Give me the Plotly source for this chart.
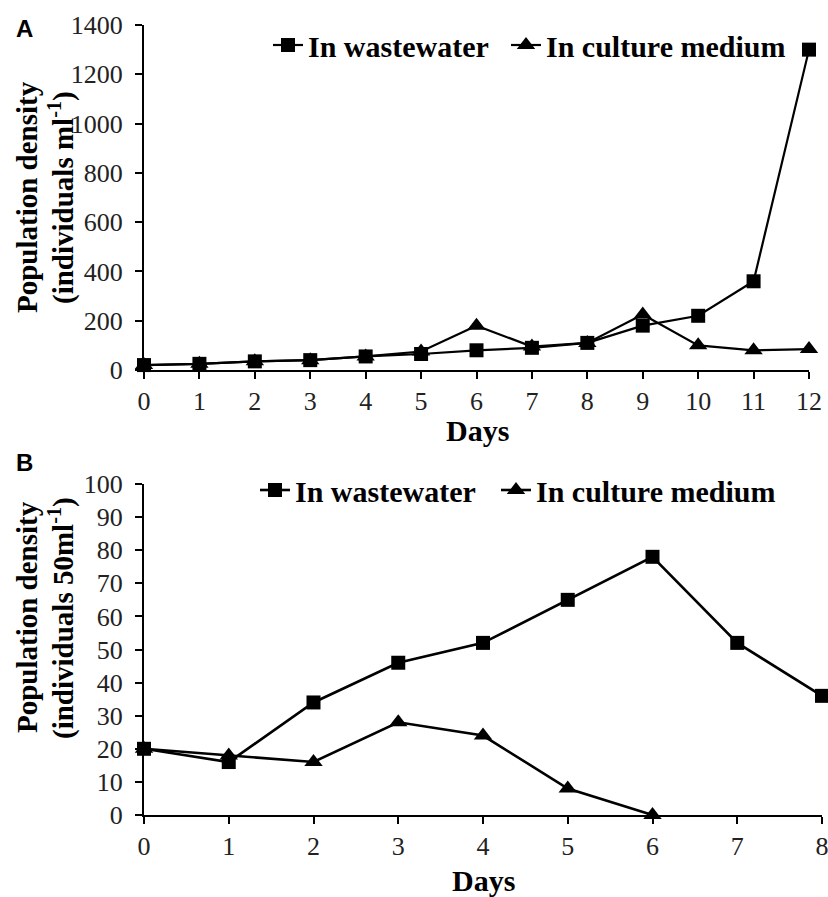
import plotly.graph_objects as go

# Panel A data
days_a = [0, 1, 2, 3, 4, 5, 6, 7, 8, 9, 10, 11, 12]
waste_a = [20, 25, 35, 40, 55, 65, 80, 90, 110, 180, 220, 360, 1300]
culture_a = [20, 25, 35, 40, 55, 75, 180, 95, 110, 225, 100, 80, 85]

# Panel B data
days_b = [0, 1, 2, 3, 4, 5, 6, 7, 8]
waste_b = [20, 16, 34, 46, 52, 65, 78, 52, 36]
days_b_c = [0, 1, 2, 3, 4, 5, 6]
culture_b = [20, 18, 16, 28, 24, 8, 0]

yticks_a = [0, 200, 400, 600, 800, 1000, 1200, 1400]
yticks_b = [0, 10, 20, 30, 40, 50, 60, 70, 80, 90, 100]

W, H = 828, 897
SERIF = "Liberation Serif, Times New Roman, serif"

def fx(px):
    return px / W

def fy(py):
    return 1 - py / H

fig = go.Figure()

fig.add_trace(go.Scatter(x=days_a, y=waste_a, mode="lines+markers", name="In wastewater",
                         line=dict(color="black", width=2.2), marker=dict(symbol="square", size=14, color="black"),
                         xaxis="x", yaxis="y", legend="legend", cliponaxis=False))
fig.add_trace(go.Scatter(x=days_a, y=culture_a, mode="lines+markers", name="In culture medium",
                         line=dict(color="black", width=2.2), marker=dict(symbol="triangle-up", size=16, color="black"),
                         xaxis="x", yaxis="y", legend="legend2", cliponaxis=False))
fig.add_trace(go.Scatter(x=days_b, y=waste_b, mode="lines+markers", name="In wastewater",
                         line=dict(color="black", width=2.6), marker=dict(symbol="square", size=14, color="black"),
                         xaxis="x2", yaxis="y2", legend="legend3", cliponaxis=False))
fig.add_trace(go.Scatter(x=days_b_c, y=culture_b, mode="lines+markers", name="In culture medium",
                         line=dict(color="black", width=2.6), marker=dict(symbol="triangle-up", size=16, color="black"),
                         xaxis="x2", yaxis="y2", legend="legend4", cliponaxis=False))

axis_common = dict(showline=True, linecolor="black", linewidth=2, ticks="outside", ticklen=7,
                   tickwidth=2, tickcolor="black", showgrid=False, zeroline=False, automargin=False,
                   ticklabeloverflow="allow",
                   tickfont=dict(family=SERIF, size=26, color="#222"))

legend_font = dict(family=SERIF, size=30, color="black", weight="bold")

def leg(xpx, ypx):
    return dict(orientation="h", x=fx(xpx), y=fy(ypx), xanchor="left", yanchor="middle",
                font=legend_font, bgcolor="rgba(0,0,0,0)", itemwidth=30)

fig.update_layout(
    width=W, height=H, margin=dict(l=0, r=0, t=0, b=0, pad=0, autoexpand=False),
    paper_bgcolor="white", plot_bgcolor="white",
    xaxis=dict(domain=[fx(144), fx(809)], range=[0, 12], tickvals=days_a, anchor="y",
               ticklabelstandoff=0, **axis_common),
    yaxis=dict(domain=[fy(370), fy(25)], range=[0, 1400], tickvals=yticks_a, anchor="x",
               ticklabelstandoff=7, **axis_common),
    xaxis2=dict(domain=[fx(144), fx(822)], range=[0, 8], tickvals=days_b, anchor="y2",
                ticklabelstandoff=0, **axis_common),
    yaxis2=dict(domain=[fy(815), fy(484)], range=[0, 100], tickvals=yticks_b, anchor="x2",
                ticklabelstandoff=7, **axis_common),
    legend=leg(268, 45),
    legend2=leg(506, 45),
    legend3=leg(255, 490),
    legend4=leg(496, 490),
    showlegend=True,
)

annos = [
    dict(text="<b>A</b>", x=fx(24), y=fy(28), font=dict(family="Liberation Sans, Arial", size=24)),
    dict(text="<b>B</b>", x=fx(24), y=fy(462), font=dict(family="Liberation Sans, Arial", size=24)),
    dict(text="<b>Days</b>", x=fx(477), y=fy(430), font=dict(family=SERIF, size=30)),
    dict(text="<b>Days</b>", x=fx(483), y=fy(880), font=dict(family=SERIF, size=30)),
    dict(text="<b>Population density</b>", x=fx(27), y=fy(197), textangle=-90, font=dict(family=SERIF, size=29)),
    dict(text="<b>(individuals ml<sup>-1</sup>)</b>", x=fx(61), y=fy(197), textangle=-90, font=dict(family=SERIF, size=29)),
    dict(text="<b>Population density</b>", x=fx(27), y=fy(617), textangle=-90, font=dict(family=SERIF, size=29)),
    dict(text="<b>(individuals 50ml<sup>-1</sup>)</b>", x=fx(61), y=fy(618), textangle=-90, font=dict(family=SERIF, size=29)),
]
for a in annos:
    a.update(xref="paper", yref="paper", showarrow=False, xanchor="center", yanchor="middle")
    a["font"]["color"] = "black"
fig.update_layout(annotations=annos)

fig.write_html("out.html", config={"displayModeBar": False},
               post_script="document.body.style.margin='0px';document.body.style.overflow='hidden';")
